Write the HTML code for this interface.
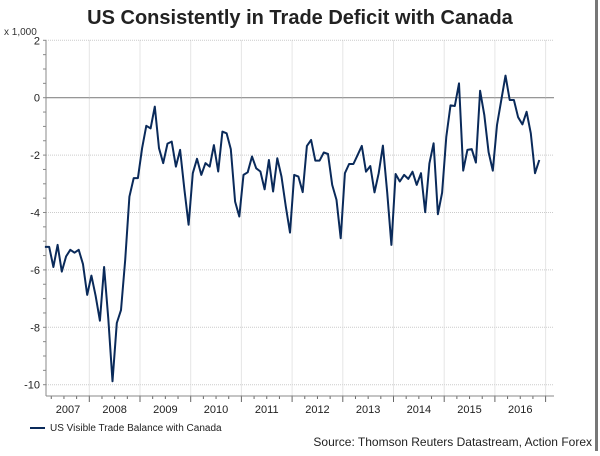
<!DOCTYPE html>
<html><head><meta charset="utf-8"><style>
body{margin:0;background:#fff;width:600px;height:451px;overflow:hidden;font-family:"Liberation Sans",Arial,sans-serif}
</style></head><body>
<svg id="c" width="600" height="451" xmlns="http://www.w3.org/2000/svg" font-family="Liberation Sans, Arial, sans-serif">
<rect x="595" y="0" width="3" height="451" fill="#777"/>
<text x="300" y="24" text-anchor="middle" font-size="20" font-weight="bold" fill="#222">US Consistently in Trade Deficit with Canada</text>
<text x="4" y="35" font-size="10" fill="#333">x 1,000</text>
<g id="grid"></g>
<g id="axes"></g>
<g id="series"></g>
<line x1="30" y1="428" x2="45" y2="428" stroke="#0a2a5a" stroke-width="2"/>
<text x="50" y="431" font-size="10" fill="#222">US Visible Trade Balance with Canada</text>
<text x="592" y="446" text-anchor="end" font-size="12" fill="#222">Source: Thomson Reuters Datastream, Action Forex</text>
</svg>
<script>
const yTicks=[2,0,-2,-4,-6,-8,-10];
const years=[2007,2008,2009,2010,2011,2012,2013,2014,2015,2016];
const startMonthIndex=1; // Feb 2007
const values=[-5.2,-5.2,-5.9,-5.13,-6.06,-5.53,-5.3,-5.4,-5.3,-5.8,-6.87,-6.2,-6.9,-7.77,-5.9,-7.7,-9.88,-7.85,-7.4,-5.65,-3.45,-2.8,-2.8,-1.76,-0.98,-1.07,-0.31,-1.76,-2.28,-1.6,-1.53,-2.4,-1.82,-3.2,-4.43,-2.63,-2.13,-2.69,-2.28,-2.4,-1.65,-2.57,-1.18,-1.24,-1.79,-3.62,-4.14,-2.69,-2.6,-2.05,-2.46,-2.57,-3.19,-2.17,-3.27,-2.11,-2.75,-3.79,-4.7,-2.69,-2.75,-3.29,
-1.68,-1.47,-2.19,-2.19,-1.91,-1.96,-3.04,-3.56,-4.9,-2.63,-2.31,-2.31,-2.0,-1.68,-2.58,-2.38,-3.3,-2.63,-1.67,-3.3,-5.13,-2.66,-2.92,-2.69,-2.83,-2.58,-3.04,-2.63,-3.99,-2.29,-1.59,-4.06,-3.31,-1.36,-0.27,-0.29,0.5,-2.54,-1.82,-1.79,-2.26,0.24,-0.6,-1.9,-2.54,-0.95,-0.1,0.77,-0.08,-0.08,-0.68,-0.93,-0.49,-1.24,-2.63,-2.17];
const NS='http://www.w3.org/2000/svg';
const L=46,R=554,T=40.5,B=396;
const x0=38.6,yearW=50.7;
function xm(i){return x0+(i+0.5)*yearW/12;}
function xy(yr){return x0+(yr-2007)*yearW;}
function y(v){return 97.7-v*28.7;}
function mk(tag,attrs,parent){const e=document.createElementNS(NS,tag);for(const k in attrs)e.setAttribute(k,attrs[k]);document.getElementById(parent).appendChild(e);return e;}
yTicks.forEach(t=>{
  const g=mk('line',{x1:L,x2:R,y1:y(t),y2:y(t),stroke:t===0?'#888':'#ccc','stroke-width':t===0?1.2:1,'stroke-dasharray':t===0?'':'1,1'},'grid');
  
  
  const tx=mk('text',{x:40,y:y(t)+4,'text-anchor':'end','font-size':11,fill:'#222'},'axes');
  tx.textContent=t;
  
  
});
for(let v=2;v>=-10;v-=0.5){const t=mk('line',{x1:L-3,x2:L,y1:y(v),y2:y(v),stroke:'#888'},'axes');}
years.concat([2017]).forEach(yr=>{
  const xx=xy(yr);
  if(xx>L&&xx<R){const g=mk('line',{x1:xx,x2:xx,y1:T,y2:B,stroke:'#ccc','stroke-dasharray':'1,1'},'grid');}
  if(xx>L&&xx<=R+1){const t=mk('line',{x1:xx,x2:xx,y1:B,y2:B+6,stroke:'#666'},'axes');}
  for(let q=1;q<4;q++){const qx=xx+q*yearW/4;if(qx>L&&qx<R){const t=mk('line',{x1:qx,x2:qx,y1:B,y2:B+3,stroke:'#666'},'axes');}}
});
years.forEach(yr=>{
  const tx=mk('text',{x:Math.max(xy(yr)+yearW/2,68),y:B+17,'text-anchor':'middle','font-size':11,fill:'#222'},'axes');
  tx.textContent=yr;
  
  
});
const la=mk('line',{x1:L,x2:L,y1:T,y2:B,stroke:'#888'},'axes');
const ba=mk('line',{x1:L,x2:R,y1:B,y2:B,stroke:'#888'},'axes');
const pts=values.map((v,k)=>xm(startMonthIndex+k).toFixed(1)+','+y(v).toFixed(1)).join(' ');
const pl=mk('polyline',{points:pts,fill:'none',stroke:'#0a2a5a','stroke-width':2,'stroke-linejoin':'round'},'series');


</script>
</body></html>
